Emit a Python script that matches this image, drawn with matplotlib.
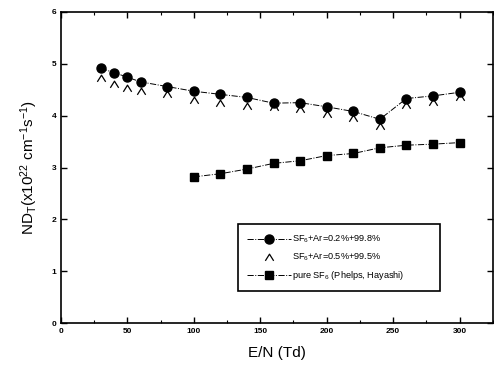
import matplotlib
matplotlib.use("Agg")
import matplotlib.pyplot as plt
from matplotlib.path import Path
from matplotlib.ticker import MultipleLocator

plt.rcParams['font.family'] = ['Liberation Sans', 'DejaVu Sans']
plt.rcParams['mathtext.fontset'] = 'custom'
plt.rcParams['mathtext.rm'] = 'Liberation Sans'
plt.rcParams['mathtext.it'] = 'Liberation Sans'

en_mix = [30, 40, 50, 60, 80, 100, 120, 140, 160, 180, 200, 220, 240, 260, 280, 300]
nd_02 = [4.91, 4.83, 4.74, 4.65, 4.56, 4.47, 4.41, 4.35, 4.24, 4.25, 4.17, 4.08, 3.93, 4.33, 4.38, 4.45]
nd_05 = [4.72, 4.61, 4.54, 4.48, 4.42, 4.31, 4.24, 4.18, 4.17, 4.13, 4.04, 3.95, 3.80, 4.20, 4.27, 4.36]
en_pure = [100, 120, 140, 160, 180, 200, 220, 240, 260, 280, 300]
nd_pure = [2.82, 2.88, 2.97, 3.08, 3.13, 3.23, 3.27, 3.38, 3.43, 3.45, 3.48]

labels = ['SF$_6$+Ar=0.2%+99.8%', 'SF$_6$+Ar=0.5%+99.5%', 'pure SF$_6$ (Phelps, Hayashi)']

caret = Path([(-1, -0.8), (0, 0.8), (1, -0.8)], [Path.MOVETO, Path.LINETO, Path.LINETO])

fig = plt.figure(figsize=(4.94, 3.71), dpi=100)
ax = fig.add_axes([0.1235, 0.129, 0.874, 0.839])

ax.plot(en_mix, nd_02, linestyle='-.', color='black', lw=0.7, marker='o', ms=6.5,
        mfc='black', mec='black', label=labels[0])
ax.plot(en_mix, nd_05, linestyle='none', marker=caret, ms=6, mfc='none', mec='black',
        mew=0.9, label=labels[1])
ax.plot(en_pure, nd_pure, linestyle='-.', color='black', lw=0.7, marker='s', ms=6,
        mfc='black', mec='black', label=labels[2])

ax.set_xlim(0, 325)
ax.set_ylim(0, 6)
ax.xaxis.set_major_locator(MultipleLocator(50))
ax.xaxis.set_minor_locator(MultipleLocator(25))
ax.yaxis.set_major_locator(MultipleLocator(1))
ax.tick_params(which='both', direction='in', top=True, right=True, labelsize=6)
ax.tick_params(which='major', length=4, width=1)
ax.tick_params(which='minor', length=2.5, width=0.8)
for lab in ax.get_xticklabels() + ax.get_yticklabels():
    lab.set_fontweight('bold')
for s in ax.spines.values():
    s.set_linewidth(1.2)

ax.set_xlabel('E/N (Td)', fontsize=11, labelpad=8)
ax.set_ylabel('ND$_T$(x10$^{22}$ cm$^{-1}$s$^{-1}$)', fontsize=11, labelpad=8)

leg = ax.legend(loc='lower left', bbox_to_anchor=(0.41, 0.103, 0.4676, 0.0), mode='expand',
                borderaxespad=0, fontsize=6.6, frameon=True, fancybox=False,
                edgecolor='black', handlelength=4.8, handletextpad=0.1, borderpad=1.0,
                labelspacing=0.6)
leg.get_frame().set_linewidth(1.2)
leg.get_frame().set_alpha(1)

fig.savefig('out.png', dpi=100)
